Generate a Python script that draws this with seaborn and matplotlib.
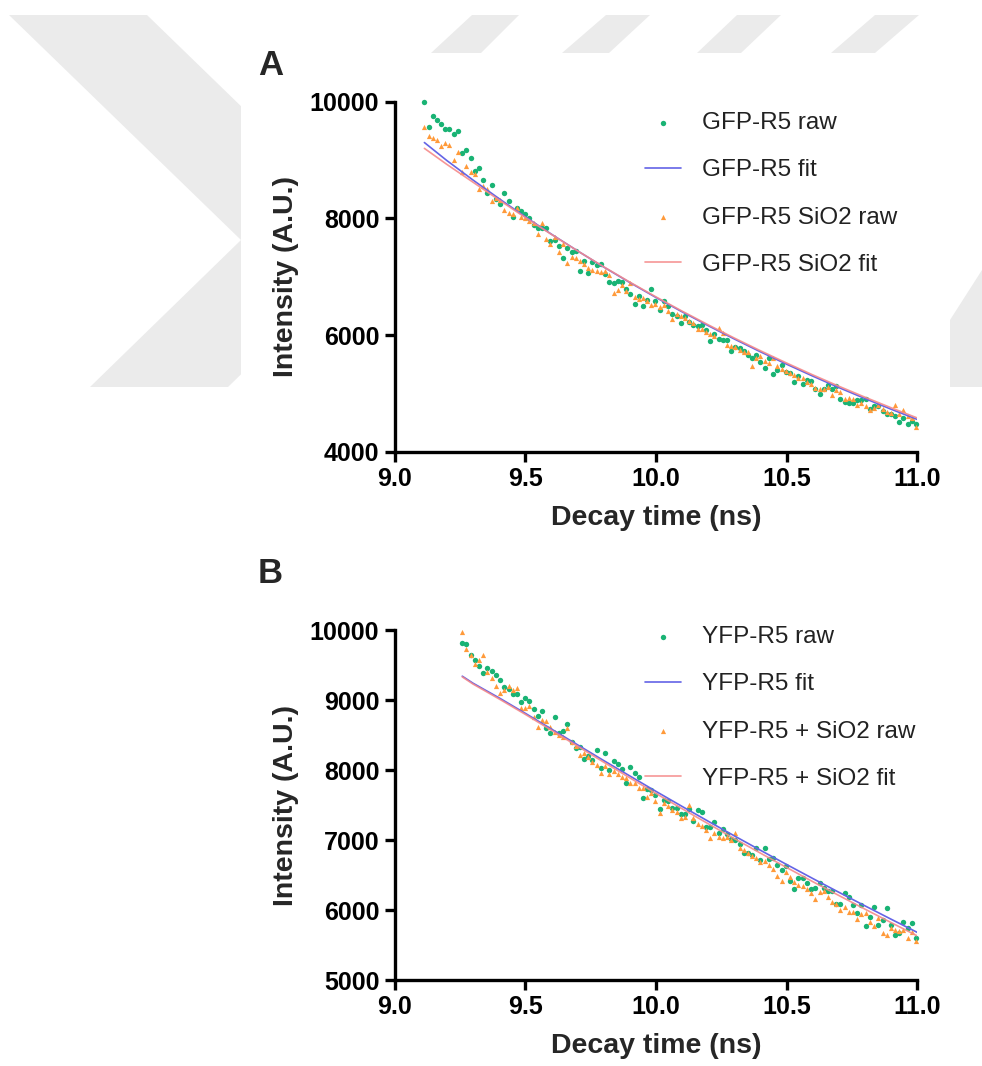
import matplotlib
matplotlib.use('Agg')
import matplotlib.pyplot as plt
from matplotlib.patches import Polygon, Rectangle
import seaborn as sns
import pandas as pd

sns.set_theme(style="ticks")
plt.rcParams['font.family'] = ['Liberation Sans', 'DejaVu Sans']

# decay-time channels (ns), shared by both panels (panel B starts at channel 9)
times = [9.114, 9.130, 9.146, 9.162, 9.178, 9.194, 9.210, 9.227, 9.243, 9.259,
         9.275, 9.291, 9.307, 9.323, 9.339, 9.355, 9.371, 9.387, 9.403, 9.420,
         9.436, 9.452, 9.468, 9.484, 9.500, 9.516, 9.532, 9.548, 9.564, 9.580,
         9.596, 9.612, 9.629, 9.645, 9.661, 9.677, 9.693, 9.709, 9.725, 9.741,
         9.757, 9.773, 9.789, 9.805, 9.822, 9.838, 9.854, 9.870, 9.886, 9.902,
         9.918, 9.934, 9.950, 9.966, 9.982, 9.998, 10.014, 10.031, 10.047, 10.063,
         10.079, 10.095, 10.111, 10.127, 10.143, 10.159, 10.175, 10.191, 10.207, 10.224,
         10.240, 10.256, 10.272, 10.288, 10.304, 10.320, 10.336, 10.352, 10.368, 10.384,
         10.400, 10.416, 10.433, 10.449, 10.465, 10.481, 10.497, 10.513, 10.529, 10.545,
         10.561, 10.577, 10.593, 10.609, 10.626, 10.642, 10.658, 10.674, 10.690, 10.706,
         10.722, 10.738, 10.754, 10.770, 10.786, 10.802, 10.819, 10.835, 10.851, 10.867,
         10.883, 10.899, 10.915, 10.931, 10.947, 10.963, 10.979, 10.995]

gfp_raw = [10000, 9570, 9760, 9680, 9610, 9540, 9530, 9450, 9500, 9120,
           9180, 9040, 8820, 8870, 8650, 8430, 8580, 8340, 8250, 8430,
           8290, 8020, 8180, 8120, 8070, 8000, 7890, 7830, 7840, 7830,
           7620, 7630, 7530, 7320, 7490, 7430, 7440, 7090, 7270, 7070,
           7260, 7200, 7226, 7050, 6910, 6900, 6920, 6910, 6790, 6700,
           6540, 6670, 6490, 6600, 6790, 6590, 6430, 6590, 6490, 6360,
           6320, 6200, 6320, 6220, 6180, 6160, 6180, 6080, 5900, 6020,
           5930, 5910, 5910, 5730, 5800, 5770, 5730, 5650, 5600, 5660,
           5530, 5430, 5610, 5340, 5400, 5480, 5360, 5350, 5190, 5290,
           5160, 5230, 5220, 5080, 4990, 5080, 5140, 5080, 5120, 4910,
           4860, 4830, 4830, 4890, 4890, 4910, 4740, 4780, 4790, 4700,
           4650, 4650, 4610, 4510, 4570, 4470, 4530, 4470]

gfp_sio2_raw = [9570, 9420, 9380, 9335, 9236, 9290, 9255, 9009, 9145, 8790,
                8895, 8795, 8760, 8500, 8553, 8510, 8290, 8354, 8308, 8140,
                8100, 8080, 8183, 8023, 8012, 7954, 7915, 7727, 7927, 7642,
                7556, 7681, 7425, 7556, 7243, 7339, 7329, 7271, 7214, 7146,
                7117, 7100, 7080, 7100, 7026, 6719, 6775, 6850, 6758, 6890,
                6645, 6616, 6633, 6587, 6514, 6540, 6474, 6514, 6416, 6274,
                6360, 6331, 6297, 6245, 6201, 6103, 6103, 6057, 6018, 5989,
                6115, 6035, 5830, 5818, 5791, 5750, 5705, 5705, 5466, 5600,
                5640, 5560, 5517, 5603, 5476, 5420, 5391, 5350, 5317, 5271,
                5271, 5192, 5158, 5090, 5078, 5078, 5107, 4964, 5060, 5032,
                4907, 4929, 4907, 4793, 4834, 4783, 4707, 4748, 4793, 4730,
                4680, 4660, 4805, 4651, 4719, 4611, 4583, 4424]

fit_t_a = [9.114, 9.2, 9.3, 9.4, 9.5, 9.6, 9.7, 9.8, 9.9, 10.0,
           10.1, 10.2, 10.3, 10.4, 10.5, 10.6, 10.7, 10.8, 10.9, 11.0]
gfp_fit = [9300, 8991, 8657, 8337, 8027, 7729, 7443, 7166, 6900, 6644,
           6398, 6161, 5932, 5712, 5500, 5296, 5099, 4911, 4728, 4553]
gfp_sio2_fit = [9200, 8925, 8620, 8315, 8015, 7725, 7443, 7170, 6907, 6654,
                6410, 6175, 5948, 5730, 5520, 5317, 5122, 4934, 4753, 4578]

yfp_raw = [9814, 9800, 9643, 9571, 9486, 9381, 9462, 9414, 9353, 9281,
           9190, 9157, 9086, 9081, 8976, 9033, 8990, 8867, 8771, 8843,
           8595, 8533, 8757, 8524, 8557, 8657, 8395, 8310, 8333, 8152,
           8200, 8143, 8286, 8024, 8248, 8000, 8133, 8080, 8014, 7810,
           8038, 7962, 7905, 7595, 7724, 7714, 7643, 7438, 7571, 7562,
           7462, 7452, 7367, 7367, 7443, 7271, 7429, 7405, 7190, 7190,
           7262, 7105, 7152, 7081, 7010, 7000, 6950, 6810, 6810, 6786,
           6881, 6714, 6881, 6730, 6738, 6643, 6571, 6633, 6419, 6295,
           6452, 6452, 6390, 6295, 6310, 6381, 6310, 6271, 6276, 6086,
           6086, 6238, 6190, 6071, 5962, 6071, 5771, 5905, 6048, 5786,
           5857, 6024, 5786, 5643, 5676, 5833, 5738, 5810, 5595]

yfp_sio2_raw = [9976, 9729, 9650, 9514, 9571, 9643, 9395, 9310, 9205, 9095,
                9150, 9200, 9143, 9167, 8881, 8881, 8919, 8760, 8610, 8720,
                8705, 8619, 8540, 8500, 8467, 8595, 8400, 8343, 8214, 8250,
                8180, 8110, 8070, 7952, 8060, 7938, 7980, 7938, 7905, 7881,
                7810, 7810, 7738, 7738, 7619, 7667, 7557, 7381, 7524, 7486,
                7429, 7405, 7310, 7333, 7500, 7310, 7230, 7200, 7150, 7024,
                7095, 7048, 7024, 7048, 7000, 7105, 6881, 6857, 6810, 6771,
                6738, 6690, 6705, 6650, 6581, 6486, 6414, 6548, 6476, 6400,
                6357, 6348, 6300, 6250, 6152, 6262, 6276, 6190, 6119, 6080,
                6000, 6050, 5976, 5976, 5867, 5950, 5960, 5833, 5771, 5880,
                5667, 5643, 5740, 5714, 5700, 5720, 5595, 5680, 5562]

fit_t_b = [9.259, 9.3, 9.4, 9.5, 9.6, 9.7, 9.8, 9.9, 10.0,
           10.1, 10.2, 10.3, 10.4, 10.5, 10.6, 10.7, 10.8, 10.9, 11.0]
yfp_fit = [9340, 9240, 9030, 8810, 8585, 8360, 8135, 7915, 7695,
           7480, 7268, 7059, 6853, 6650, 6450, 6253, 6059, 5868, 5680]
yfp_sio2_fit = [9330, 9228, 9015, 8795, 8568, 8340, 8112, 7888, 7665,
                7447, 7232, 7020, 6812, 6607, 6405, 6207, 6012, 5820, 5630]

GREEN = "#19b374"
ORANGE = "#ff9a3a"
BLUE = "#6464e6"
RED = "#f58a8a"

W, H = 982, 1066
fig = plt.figure(figsize=(W / 100, H / 100), dpi=100)


def fx(px):
    return px / W


def fy(py):
    return 1 - py / H


# faint background watermark, covered by a white panel behind the charts
wm = "#ebebeb"
shapes = [
    [(9, 15), (147, 15), (379, 240), (228, 387), (90, 387), (241, 240)],
    [(431, 53), (481, 53), (519, 15), (472, 15)],
    [(562, 53), (609, 53), (650, 15), (606, 15)],
    [(697, 53), (741, 53), (781, 15), (737, 15)],
    [(831, 53), (875, 53), (919, 15), (875, 15)],
    [(950, 320), (982, 270), (982, 387), (950, 387)],
]
for pts in shapes:
    fig.patches.append(Polygon([(fx(x), fy(y)) for x, y in pts], closed=True,
                               transform=fig.transFigure, facecolor=wm,
                               edgecolor="none", zorder=-2))
fig.patches.append(Rectangle((fx(241), fy(1066)), fx(950) - fx(241), fy(53) - fy(1066),
                             transform=fig.transFigure, facecolor="white",
                             edgecolor="none", zorder=-1))

x0, x1 = 394.6, 917.3
axA = fig.add_axes([fx(x0), fy(451.7), fx(x1) - fx(x0), fy(101.7) - fy(451.7)])
axB = fig.add_axes([fx(x0), fy(980), fx(x1) - fx(x0), fy(630) - fy(980)])

panels = [
    (axA, times, gfp_raw, gfp_sio2_raw, fit_t_a, gfp_fit, gfp_sio2_fit,
     ["GFP-R5 raw", "GFP-R5 fit", "GFP-R5 SiO2 raw", "GFP-R5 SiO2 fit"],
     (4000, 10000), [4000, 6000, 8000, 10000], 112, "A", 75),
    (axB, times[9:], yfp_raw, yfp_sio2_raw, fit_t_b, yfp_fit, yfp_sio2_fit,
     ["YFP-R5 raw", "YFP-R5 fit", "YFP-R5 + SiO2 raw", "YFP-R5 + SiO2 fit"],
     (5000, 10000), [5000, 6000, 7000, 8000, 9000, 10000], 626, "B", 583),
]

for ax, t, raw1, raw2, ft, fit1, fit2, labels, ylim, yticks, leg_top, letter, let_y in panels:
    ax.set_zorder(2)
    ax.patch.set_alpha(0)
    df1 = pd.DataFrame({"t": t, "v": raw1})
    df2 = pd.DataFrame({"t": t, "v": raw2})
    dfa = pd.DataFrame({"t": ft, "v": fit1})
    dfb = pd.DataFrame({"t": ft, "v": fit2})
    sns.scatterplot(data=df1, x="t", y="v", ax=ax, color=GREEN, marker="o", s=15,
                    linewidth=0, label=labels[0], clip_on=False, zorder=3)
    sns.lineplot(data=dfa, x="t", y="v", ax=ax, color=BLUE, lw=1.2,
                 estimator=None, sort=False, label=labels[1], zorder=4)
    sns.scatterplot(data=df2, x="t", y="v", ax=ax, color=ORANGE, marker="^", s=14,
                    linewidth=0, label=labels[2], clip_on=False, zorder=3)
    sns.lineplot(data=dfb, x="t", y="v", ax=ax, color=RED, lw=1.2, alpha=0.9,
                 estimator=None, sort=False, label=labels[3], zorder=4)

    ax.set_xlim(9.0, 11.0)
    ax.set_ylim(*ylim)
    ax.set_xticks([9.0, 9.5, 10.0, 10.5, 11.0])
    ax.set_xticklabels(["9.0", "9.5", "10.0", "10.5", "11.0"])
    ax.set_yticks(yticks)
    ax.set_yticklabels([str(v) for v in yticks])
    sns.despine(ax=ax)
    for side in ["left", "bottom"]:
        ax.spines[side].set_linewidth(2.4)
        ax.spines[side].set_color("black")
    ax.tick_params(width=2.4, length=7, labelsize=18, colors="black", pad=4)
    for lab in ax.get_xticklabels() + ax.get_yticklabels():
        lab.set_fontweight("bold")
    ax.set_xlabel("Decay time (ns)", fontsize=20.5, fontweight="bold", labelpad=10)
    ax.set_ylabel("Intensity (A.U.)", fontsize=20.5, fontweight="bold", labelpad=8)

    h, l = ax.get_legend_handles_labels()
    ax.legend(h, l, loc="upper left", bbox_to_anchor=(fx(645), fy(leg_top)),
              bbox_transform=fig.transFigure, frameon=False, fontsize=17.5,
              labelspacing=1.04, handlelength=1.5, handletextpad=0.85,
              borderpad=0, borderaxespad=0, labelcolor="#222222")
    fig.text(fx(258), fy(let_y), letter, fontsize=25, fontweight="bold",
             ha="left", va="baseline")

fig.savefig("out.png", dpi=100)
